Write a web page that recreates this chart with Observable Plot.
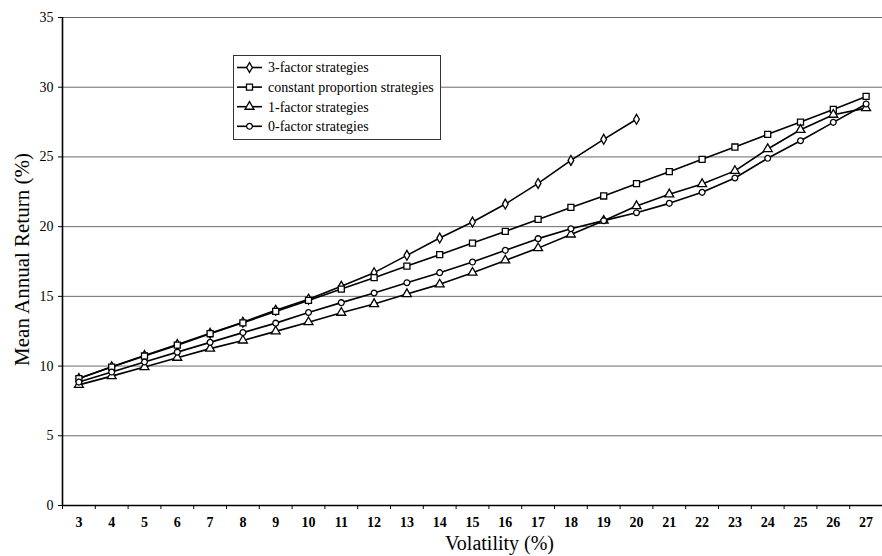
<!DOCTYPE html>
<html>
<head>
<meta charset="utf-8">
<script src="https://cdn.jsdelivr.net/npm/d3@7"></script>
<script src="https://cdn.jsdelivr.net/npm/@observablehq/plot@0.6"></script>
<style>
  html, body { margin: 0; padding: 0; background: white; }
  #chart { position: relative; width: 882px; height: 556px; font-family: "Liberation Serif", "DejaVu Serif", serif; }
  #chart svg, #chart svg text { font-family: "Liberation Serif", "DejaVu Serif", serif !important; }
  #legend { position: absolute; left: 0; top: 0; }
</style>
</head>
<body>
<div id="chart"></div>
<script>
// ---- data ----
const volatility = [3,4,5,6,7,8,9,10,11,12,13,14,15,16,17,18,19,20,21,22,23,24,25,26,27];
const threeFactor = [9.1,9.95,10.75,11.55,12.35,13.15,14.0,14.8,15.72,16.7,17.94,19.18,20.33,21.62,23.1,24.75,26.26,27.7];
const constantProportion = [9.1,9.93,10.72,11.5,12.32,13.1,13.92,14.71,15.52,16.34,17.17,17.99,18.82,19.66,20.52,21.38,22.2,23.08,23.94,24.83,25.71,26.62,27.5,28.41,29.34];
const oneFactor = [8.65,9.28,9.93,10.6,11.25,11.84,12.49,13.15,13.83,14.45,15.17,15.86,16.7,17.58,18.46,19.44,20.43,21.48,22.32,23.06,24.0,25.57,26.95,28.03,28.5];
const zeroFactor = [8.85,9.57,10.29,11.0,11.7,12.4,13.08,13.84,14.55,15.24,15.98,16.7,17.46,18.3,19.14,19.85,20.43,21.0,21.67,22.46,23.49,24.9,26.16,27.48,28.8];
const seriesNames = ["3-factor strategies","constant proportion strategies","1-factor strategies","0-factor strategies"];
const seriesSymbols = ["diamond","square","triangle","circle"];
const seriesRadius = [3.0,3.4,3.3,2.9];
const yTicks = [0,5,10,15,20,25,30,35];
const yTitle = "Mean Annual Return (%)";
const xTitle = "Volatility (%)";

// ---- build table ----
const seriesValues = [threeFactor, constantProportion, oneFactor, zeroFactor];
const rows = [];
seriesValues.forEach((vals, si) => {
  vals.forEach((v, i) => rows.push({series: seriesNames[si], vol: volatility[i], ret: v, si}));
});
const boundaries = volatility.map(d => d - 0.5).concat([volatility[volatility.length-1] + 0.5]);

const font = "Liberation Serif, DejaVu Serif, serif";

const marks = [
  Plot.ruleY(yTicks.filter(d => d > 0), {stroke: "#6a6a6a", strokeWidth: 1}),
  Plot.axisY({ticks: yTicks, tickSize: 4, tickPadding: 5, label: null, fontSize: 14}),
  Plot.axisX({ticks: boundaries, tickSize: 4, tickFormat: () => "", label: null}),
  Plot.axisX({ticks: volatility, tickSize: 0, tickPadding: 12, label: null, fontSize: 14, fontWeight: "bold"}),
  Plot.ruleX([boundaries[0]], {stroke: "black", strokeWidth: 1.6}),
  Plot.ruleY([0], {stroke: "black", strokeWidth: 1.6}),
];
seriesNames.forEach((name, si) => {
  const data = rows.filter(r => r.si === si);
  marks.push(Plot.line(data, {x: "vol", y: "ret", stroke: "black", strokeWidth: 1.6}));
});
seriesNames.forEach((name, si) => {
  const data = rows.filter(r => r.si === si);
  marks.push(Plot.dot(data, {x: "vol", y: "ret", symbol: () => seriesSymbols[si], r: seriesRadius[si], fill: "white", stroke: "black", strokeWidth: 1.3}));
});
marks.push(Plot.text([yTitle], {frameAnchor: "left", textAnchor: "middle", lineAnchor: "middle", rotate: -90, dx: -40, dy: -2, fontSize: 21, text: d => d}));
marks.push(Plot.text([xTitle], {frameAnchor: "bottom", textAnchor: "middle", lineAnchor: "middle", dy: 38, dx: 27, fontSize: 20, text: d => d}));

const chart = Plot.plot({
  width: 882, height: 556,
  marginLeft: 62, marginRight: 0, marginTop: 17, marginBottom: 51,
  x: {type: "linear", domain: [boundaries[0], boundaries[boundaries.length-1]]},
  y: {domain: [0, 35]},
  style: {fontFamily: font, background: "white", color: "black"},
  marks
});
const container = document.getElementById("chart");
container.appendChild(chart);

// ---- legend overlay ----
const legend = d3.select(container).append("svg")
  .attr("id", "legend").attr("width", 882).attr("height", 556)
  .style("pointer-events", "none");
const lg = legend.append("g").attr("transform", "translate(233,55)");
lg.append("rect").attr("x", 0.5).attr("y", 0.5).attr("width", 207).attr("height", 84)
  .attr("fill", "white").attr("stroke", "#333").attr("stroke-width", 1);
const symMap = {diamond: d3.symbolDiamond, square: d3.symbolSquare, triangle: d3.symbolTriangle, circle: d3.symbolCircle};
seriesNames.forEach((name, si) => {
  const cy = 12.5 + si * 19.6;
  const row = lg.append("g").attr("transform", `translate(0,${cy})`);
  row.append("line").attr("x1", 4).attr("x2", 29).attr("y1", 0).attr("y2", 0)
    .attr("stroke", "black").attr("stroke-width", 1.6);
  const r = seriesRadius[si];
  row.append("path").attr("transform", "translate(16.5,0)")
    .attr("d", d3.symbol(symMap[seriesSymbols[si]], r * r * Math.PI)())
    .attr("fill", "white").attr("stroke", "black").attr("stroke-width", 1.3);
  row.append("text").attr("x", 35).attr("y", 0).attr("dy", "0.35em")
    .attr("font-size", 14).attr("fill", "black").text(name);
});
</script>
</body>
</html>
